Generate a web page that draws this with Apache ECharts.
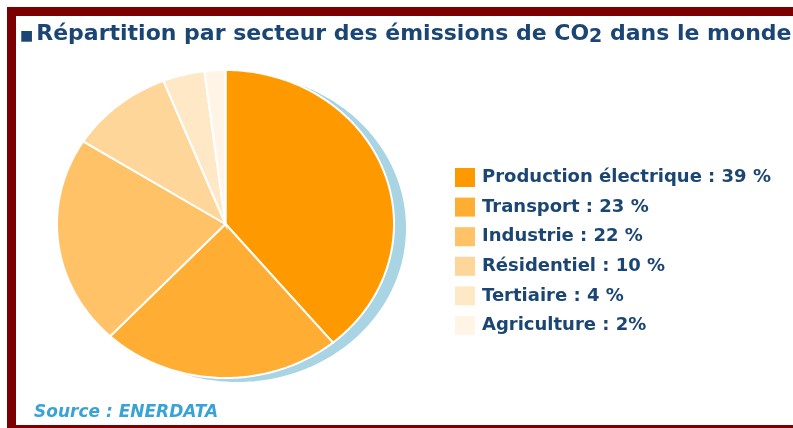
<!DOCTYPE html>
<html>
<head>
<meta charset="utf-8">
<script src="https://cdn.jsdelivr.net/npm/echarts@6/dist/echarts.min.js"></script>
<style>
  html, body { margin: 0; padding: 0; background: #fff; }
  #chart { width: 793px; height: 428px; }
</style>
</head>
<body>
<div id="chart"></div>
<script>
// sectors, shares (%) and the legend labels as printed on the figure
const sectors = ['Production électrique', 'Transport', 'Industrie', 'Résidentiel', 'Tertiaire', 'Agriculture'];
const shares = [39, 23, 22, 10, 4, 2];
const legendLabels = [
    'Production électrique : 39 %',
    'Transport : 23 %',
    'Industrie : 22 %',
    'Résidentiel : 10 %',
    'Tertiaire : 4 %',
    'Agriculture : 2%'
];
const sliceColors = ['#ff9900', '#ffad33', '#ffc266', '#ffd699', '#ffe8c6', '#fff4e6'];

const navy = '#1b4674';
const frameRed = '#7d0000';

/**
 * Builds the points of an elliptic slice from start to end (in %),
 * clockwise from 12 o'clock, mapped through the grid's axes.
 */
function slicePoints(api, from, to) {
    const pts = [api.coord([0, 0])];
    const a0 = from / 100 * Math.PI * 2;
    const a1 = to / 100 * Math.PI * 2;
    const steps = Math.max(2, Math.ceil((a1 - a0) / (Math.PI / 180)));
    for (let k = 0; k <= steps; k++) {
        const a = a0 + (a1 - a0) * k / steps;
        pts.push(api.coord([Math.sin(a), Math.cos(a)]));
    }
    return pts;
}

const chart = echarts.init(document.getElementById('chart'));

let cumul = 0;
const sliceSeries = sectors.map(function (name, i) {
    const from = cumul;
    cumul += shares[i];
    return {
        type: 'custom',
        name: name,
        coordinateSystem: 'cartesian2d',
        itemStyle: { color: sliceColors[i] },
        z: 3,
        silent: true,
        data: [[from, cumul]],
        renderItem: function (params, api) {
            return {
                type: 'polygon',
                shape: { points: slicePoints(api, api.value(0), api.value(1)) },
                style: { fill: api.visual('color'), stroke: '#fff', lineWidth: 2 }
            };
        }
    };
});

const shadowSeries = {
    type: 'custom',
    name: 'ombre',
    coordinateSystem: 'cartesian2d',
    z: 2,
    silent: true,
    data: [[0, 100]],
    renderItem: function (params, api) {
        return {
            type: 'polygon',
            x: 12,
            y: 4,
            shape: { points: slicePoints(api, api.value(0), api.value(1)).slice(1) },
            style: { fill: '#a9d4e4' }
        };
    }
};

const option = {
    animation: false,
    backgroundColor: '#fff',
    title: {
        left: 15,
        top: 16,
        text: '{sq|■}{t|Répartition par secteur des émissions de CO}{sub|2}{t| dans le monde}',
        textStyle: {
            rich: {
                sq: { fontSize: 14, color: navy, fontFamily: 'DejaVu Sans', padding: [5, 3, 0, 0] },
                t: { fontSize: 22, fontWeight: 'bold', color: navy, fontFamily: 'DejaVu Sans' },
                sub: { fontSize: 19, fontWeight: 'bold', color: navy, fontFamily: 'DejaVu Sans', padding: [7, 0, 0, 0] }
            }
        }
    },
    legend: {
        orient: 'vertical',
        left: 450,
        top: 163,
        icon: 'rect',
        itemWidth: 20,
        itemHeight: 19,
        itemGap: 10.6,
        selectedMode: false,
        data: sectors,
        formatter: function (name) {
            return legendLabels[sectors.indexOf(name)];
        },
        textStyle: {
            fontSize: 18,
            fontWeight: 'bold',
            color: navy,
            fontFamily: 'DejaVu Sans',
            padding: [0, 0, 0, 2]
        }
    },
    grid: { left: 57, top: 70, width: 337, height: 308 },
    xAxis: { type: 'value', min: -1, max: 1, show: false },
    yAxis: { type: 'value', min: -1, max: 1, show: false },
    graphic: [
        { type: 'rect', shape: { x: 7, y: 7, width: 786, height: 9 }, style: { fill: frameRed } },
        { type: 'rect', shape: { x: 7, y: 7, width: 9, height: 421 }, style: { fill: frameRed } },
        { type: 'rect', shape: { x: 7, y: 425, width: 786, height: 3 }, style: { fill: frameRed } },
        {
            type: 'text',
            left: 34,
            top: 404,
            style: {
                text: 'Source : ENERDATA',
                fill: '#3aa3d6',
                font: 'italic bold 17px "DejaVu Sans"'
            }
        }
    ],
    series: [shadowSeries].concat(sliceSeries)
};

chart.setOption(option);
</script>
</body>
</html>
